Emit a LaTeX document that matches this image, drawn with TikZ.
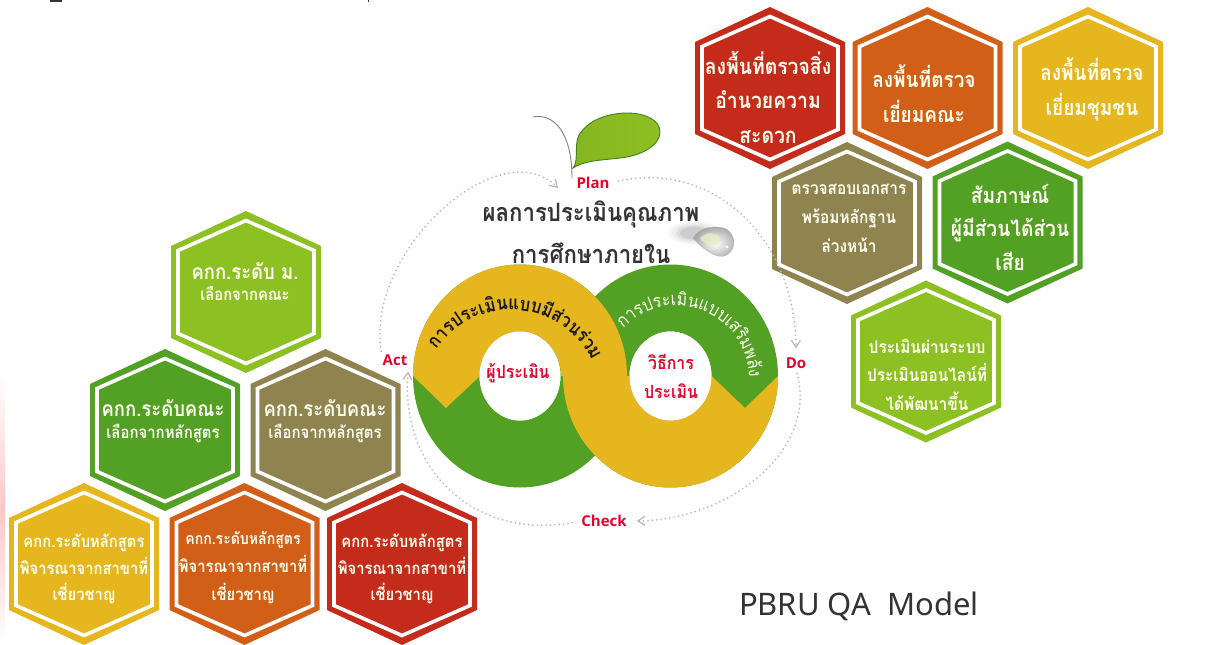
\documentclass[tikz,border=0pt]{standalone}
\usepackage{fontspec}
\usetikzlibrary{arrows.meta,decorations.text,shadings}
\newfontfamily\thaifont[Script=Thai,FakeStretch=0.88]{Loma}
\newfontfamily\latinfont{Open Sans}
\newfontfamily\modelfont{Noto Sans}
\definecolor{hred}{HTML}{C52B1A}
\definecolor{horange}{HTML}{D25F18}
\definecolor{hyellow}{HTML}{E6B61F}
\definecolor{htan}{HTML}{8F8350}
\definecolor{hgreen}{HTML}{52A024}
\definecolor{hlight}{HTML}{8DC022}
\definecolor{pdcared}{HTML}{E0062C}
\definecolor{ringgray}{HTML}{B4B6BC}
\definecolor{hexwhite}{HTML}{FFFFF0}
\tikzset{
  hextext/.style={align=center,text=hexwhite,inner sep=0pt},
  pdca/.style={font=\latinfont\bfseries\fontsize{15}{15}\selectfont,text=pdcared,inner sep=1pt},
  ringlabel/.style={font=\thaifont\bfseries\fontsize{18}{29}\selectfont,text=pdcared,align=center,inner sep=0pt},
  dotring/.style={draw=ringgray,line width=1.9pt,line cap=round,dash pattern=on 0pt off 4.4pt},
  ringtip/.style={-{Straight Barb[length=7pt,width=9pt,line width=1.2pt,color=ringgray]}}
}
% name, cx, cy, colour, text x, text y, size, leading, text
\newcommand\hexcell[9]{%
  \begin{scope}[shift={(#2,-#3)}]
    \fill[#4] (0,81) -- (75,46) -- (75,-46) -- (0,-81) -- (-75,-46) -- (-75,46) -- cycle;
    \draw[white,line width=3.6pt,miter limit=10] (0,71.5) -- (68,41.5) -- (68,-41.5) -- (0,-71.5) -- (-68,-41.5) -- (-68,41.5) -- cycle;
  \end{scope}
  \node[hextext,font=\thaifont\bfseries\fontsize{#7}{#8}\selectfont] (#1) at (#5,-#6) {#9};
}
\begin{document}
\begin{tikzpicture}[x=1pt,y=1pt]
\useasboundingbox (0,0) rectangle (1229,-645);
\fill[white] (0,0) rectangle (1229,-645);
% left edge tint
\shade[top color=white,bottom color=white,middle color=red!22] (0,-375) rectangle (5,-645);
% clipped marks on the top edge
\fill[black!80] (50,0) rectangle (62,-1.5);
\fill[black!80] (367.5,0) rectangle (369,-1.5);

% right cluster
\hexcell{r1}{770}{88}{hred}{768}{97}{22}{34.5}{ลงพื้นที่ตรวจสิ่ง\\อำนวยความ\\สะดวก}
\hexcell{r2}{927.5}{88}{horange}{924}{93.5}{21.6}{35}{ลงพื้นที่ตรวจ\\เยี่ยมคณะ}
\hexcell{r3}{1088}{88}{hyellow}{1092}{89}{21.6}{35}{ลงพื้นที่ตรวจ\\เยี่ยมชุมชน}
\hexcell{r4}{847}{223}{htan}{849}{218}{17.5}{29}{ตรวจสอบเอกสาร\\พร้อมหลักฐาน\\ล่วงหน้า}
\hexcell{r5}{1007.5}{222.5}{hgreen}{1010}{227}{21.8}{33.5}{สัมภาษณ์\\ผู้มีส่วนได้ส่วน\\เสีย}
\hexcell{r6}{926}{361.5}{hlight}{927}{374.5}{17.5}{28.5}{ประเมินผ่านระบบ\\ประเมินออนไลน์ที่\\ได้พัฒนาขึ้น}

% left cluster
\hexcell{l1}{246}{292}{hlight}{245}{282}{21}{21}{คกก.ระดับ ม.\\{\fontsize{16.8}{21}\selectfont เลือกจากคณะ}}
\hexcell{l2}{165}{430}{hgreen}{163}{421.5}{21}{22}{คกก.ระดับคณะ\\{\fontsize{17}{22}\selectfont เลือกจากหลักสูตร}}
\hexcell{l3}{325.5}{430}{htan}{325}{421.5}{21}{22}{คกก.ระดับคณะ\\{\fontsize{17}{22}\selectfont เลือกจากหลักสูตร}}
\hexcell{l4}{84}{564}{hyellow}{84}{569}{16.8}{26.5}{คกก.ระดับหลักสูตร\\พิจารณาจากสาขาที่\\เชี่ยวชาญ}
\hexcell{l5}{244.5}{564}{horange}{243}{568}{16}{28}{คกก.ระดับหลักสูตร\\{\fontsize{16.8}{28}\selectfont พิจารณาจากสาขาที่}\\{\fontsize{16.8}{28}\selectfont เชี่ยวชาญ}}
\hexcell{l6}{402}{564}{hred}{402}{569}{16.8}{26.5}{คกก.ระดับหลักสูตร\\พิจารณาจากสาขาที่\\เชี่ยวชาญ}

% title sits behind the rings
\node[font=\thaifont\bfseries\fontsize{25.2}{42}\selectfont,text=black!80,align=center,inner sep=0pt] (title) at (591,-232) {ผลการประเมินคุณภาพ\\การศึกษาภายใน};

% infinity band
\fill[hgreen,even odd rule] (520,-376) ellipse [x radius=107,y radius=111.5] (520,-376) ellipse [x radius=40.5,y radius=44.5];
\fill[hgreen,even odd rule] (670.5,-376) ellipse [x radius=107.5,y radius=111.5] (670.5,-376) ellipse [x radius=41,y radius=44.5];
\fill[hyellow] (413,-376) arc [start angle=180,end angle=0,x radius=107,y radius=111.5]
  -- (629.5,-376) arc [start angle=180,end angle=360,x radius=41,y radius=44.5]
  -- (745,-408) -- (778,-376)
  arc [start angle=0,end angle=-180,x radius=107.5,y radius=111.5]
  -- (561,-376) arc [start angle=0,end angle=180,x radius=40.5,y radius=44.5]
  -- (446,-408) -- cycle;
\fill[white] (520,-376) ellipse [x radius=40.5,y radius=44.5];
\fill[white] (670.5,-376) ellipse [x radius=41,y radius=44.5];

% text along the rings
\path[decorate,decoration={text along path,text align=center,text color=black!90,
  text={|\thaifont\bfseries\fontsize{19}{19}\selectfont|{ก}{า}{ร}{ป}{ร}{ะ}{เ}{มิ}{น}{แ}{บ}{บ}{มี}{ส่}{ว}{น}{ร่}{ว}{ม}}}]
  (511,-400) ++(150:90) arc [start angle=150,end angle=22,radius=90];
\path[decorate,decoration={text along path,text align=center,text color=hexwhite,
  text={|\thaifont\fontsize{18}{18}\selectfont|{ก}{า}{ร}{ป}{ร}{ะ}{เ}{มิ}{น}{แ}{บ}{บ}{เ}{ส}{ริ}{ม}{พ}{ลั}{ง}}}]
  (676,-378.5) ++(145:73) arc [start angle=145,end angle=-8,radius=73];

\node[ringlabel] (who) at (518,-373) {ผู้ประเมิน};
\node[ringlabel] (how) at (671,-376) {วิธีการ\\ประเมิน};

% PDCA labels
\node[pdca] (plan) at (593,-183) {Plan};
\node[pdca] (do) at (796,-363) {Do};
\node[pdca] (check) at (604,-521) {Check};
\node[pdca] (act) at (395,-360) {Act};
\coordinate (planin) at (558,-188);

% dotted cycle
\draw[dotring,ringtip,shorten <=8pt,shorten >=8pt] (plan.east) .. controls (710,-160) and (795,-235) .. (do.north);
\draw[dotring,ringtip,shorten <=4pt,shorten >=9pt] (do.south) .. controls (818,-450) and (730,-520) .. (check.east);
\draw[dotring,ringtip,shorten <=8pt,shorten >=5pt] (check.west) .. controls (480,-540) and (400,-475) .. (act.south east);
\draw[dotring,ringtip,shorten <=2pt] (act.north west) .. controls (365,-250) and (500,-130) .. (planin);

% leaf and stem
\draw[black!50,line width=0.9pt] (533,-117) .. controls (552,-113) and (572,-130) .. (572,-178);
\shade[left color=hlight!95!black,right color=hlight,draw=hgreen!80!black,line width=0.9pt]
  (573,-168) .. controls (580,-160) and (572,-140) .. (582,-131)
  .. controls (592,-118) and (612,-113) .. (627,-113)
  .. controls (645,-113) and (660,-120) .. (660,-132)
  .. controls (660,-146) and (640,-156) .. (620,-158)
  .. controls (605,-160) and (585,-160) .. (573,-168) -- cycle;

% water drop
\foreach \o/\r in {0.03/26,0.04/22,0.06/18,0.08/14}{
  \fill[black,opacity=\o] (694,-233) ellipse [x radius=\r,y radius=0.45*\r];
}
\shade[inner color=white,outer color=black!35,draw=black!30,line width=0.3pt]
  (693,-238) .. controls (700,-226) and (716,-226) .. (724,-228)
  .. controls (735,-232) and (738,-248) .. (727,-255)
  .. controls (716,-261) and (700,-246) .. (693,-238) -- cycle;
\fill[hlight!25,opacity=0.8] (700,-238) .. controls (708,-231) and (716,-232) .. (720,-238) .. controls (722,-246) and (708,-250) .. (700,-238) -- cycle;
\fill[white] (727,-247) circle (1.6);

% caption
\node[font=\modelfont\fontsize{31}{31}\selectfont,text=black!80,inner sep=0pt] (model) at (859,-606) {PBRU QA\ \ Model};
\end{tikzpicture}
\end{document}
